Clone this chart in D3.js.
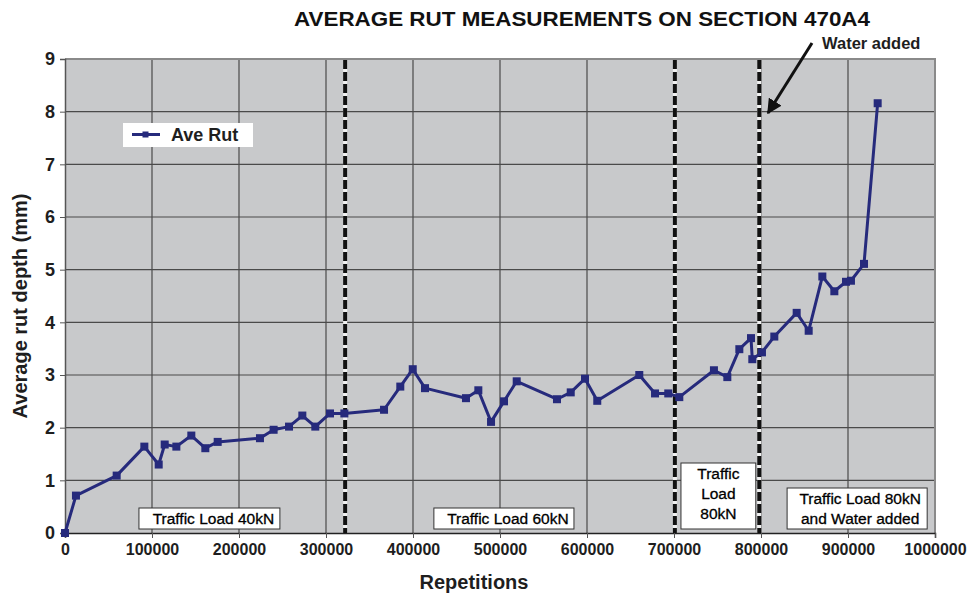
<!DOCTYPE html>
<html>
<head>
<meta charset="utf-8">
<script src="https://cdn.jsdelivr.net/npm/d3@7/dist/d3.min.js"></script>
<style>
  body { margin: 0; background: #fff; }
  svg { display: block; }
  text { font-family: "Liberation Sans", Arial, sans-serif; }
</style>
</head>
<body>
<svg id="chart" width="973" height="596"></svg>
<script>
// ---- data ----
const repetitions = [0, 12600, 59400, 91200, 107700, 114600, 128000, 145200, 161300, 175500,
  224100, 239800, 257500, 272800, 287700, 304600, 321100, 366700, 385400, 399700,
  413800, 460900, 475100, 489700, 504600, 519200, 565500, 581300, 597700, 611800,
  660100, 678200, 693400, 706100, 745900, 761300, 775100, 788500, 790000, 801100,
  815300, 841000, 854800, 870500, 884300, 897700, 903400, 918400, 934100];
const aveRut = [0, 0.71, 1.09, 1.64, 1.30, 1.68, 1.64, 1.85, 1.61, 1.73,
  1.80, 1.96, 2.02, 2.23, 2.02, 2.27, 2.27, 2.34, 2.78, 3.11,
  2.75, 2.56, 2.71, 2.11, 2.50, 2.88, 2.54, 2.67, 2.93, 2.51,
  3.00, 2.65, 2.65, 2.58, 3.09, 2.96, 3.49, 3.70, 3.30, 3.43,
  3.73, 4.18, 3.84, 4.87, 4.59, 4.77, 4.79, 5.11, 8.16];
const phaseBoundaries = [322000, 701000, 798000];
const xTicks = [0, 100000, 200000, 300000, 400000, 500000, 600000, 700000, 800000, 900000, 1000000];
const yTicks = [0, 1, 2, 3, 4, 5, 6, 7, 8, 9];
const phaseLabels = [
  { lines: ["Traffic Load 40kN"], x0: 85000, x1: 247000 },
  { lines: ["Traffic Load 60kN"], x0: 424000, x1: 585000 },
  { lines: ["Traffic", "Load", "80kN"], x0: 708000, x1: 794000 },
  { lines: ["Traffic Load 80kN", "and Water added"], x0: 830000, x1: 991000 }
];

// ---- layout ----
const svg = d3.select("#chart");
const L = 65, R = 935, T = 59, B = 533;
const x = d3.scaleLinear().domain([0, 1000000]).range([L, R]);
const y = d3.scaleLinear().domain([0, 9]).range([B, T]);
const lineColor = "#262a7c";
const textColor = "#1e1e1e";

// background
svg.append("rect").attr("x", L).attr("y", T).attr("width", R - L).attr("height", B - T)
  .attr("fill", "#c8c9cb");

// grid
svg.append("g").selectAll("line").data(yTicks.slice(1)).join("line")
  .attr("x1", L).attr("x2", R).attr("y1", d => y(d)).attr("y2", d => y(d))
  .attr("stroke", "#4a4a4a").attr("stroke-width", 1.2);
svg.append("g").selectAll("line").data(xTicks.slice(1, -1)).join("line")
  .attr("y1", T).attr("y2", B).attr("x1", d => x(d)).attr("x2", d => x(d))
  .attr("stroke", "#4a4a4a").attr("stroke-width", 1.2);

// border top/right
svg.append("path").attr("d", `M${L},${T}H${R}V${B}`).attr("fill", "none")
  .attr("stroke", "#8a8a8a").attr("stroke-width", 2);

// axes
const xAxis = d3.axisBottom(x).tickValues(xTicks).tickSize(5).tickFormat(d3.format("d"));
const gx = svg.append("g").attr("transform", `translate(0,${B})`).call(xAxis);
gx.select(".domain").attr("stroke", "#222").attr("stroke-width", 1.5);
gx.selectAll(".tick line").attr("stroke", "#555");
gx.selectAll(".tick text").attr("font-size", 16).attr("font-weight", "bold")
  .attr("fill", textColor).attr("dy", "0.85em")
  .attr("font-family", "'Liberation Sans', Arial, sans-serif");

const yAxis = d3.axisLeft(y).tickValues(yTicks).tickSize(5).tickFormat(d3.format("d"));
const gy = svg.append("g").attr("transform", `translate(${L},0)`).call(yAxis);
gy.select(".domain").attr("stroke", "#555").attr("stroke-width", 1.5);
gy.selectAll(".tick line").attr("stroke", "#555");
gy.selectAll(".tick text").attr("font-size", 18).attr("font-weight", "bold")
  .attr("fill", textColor).attr("x", -10)
  .attr("font-family", "'Liberation Sans', Arial, sans-serif");

// phase labels (boxes)
const boxTop = { 1: 508, 2: 488, 3: 463 };
phaseLabels.forEach(p => {
  const n = p.lines.length;
  const top = boxTop[n];
  const g = svg.append("g");
  g.append("rect").attr("x", x(p.x0)).attr("y", top)
    .attr("width", x(p.x1) - x(p.x0)).attr("height", 529 - top)
    .attr("fill", "#fff").attr("stroke", "#333").attr("stroke-width", 1);
  const cx = (x(p.x0) + x(p.x1)) / 2 + (n === 2 ? 3 : (n === 1 ? 4 : 0));
  p.lines.forEach((t, i) => {
    g.append("text").attr("x", cx).attr("y", top + 10.5 + 20 * i)
      .attr("dy", "0.35em").attr("text-anchor", "middle")
      .attr("font-family", "Lato, 'Open Sans', sans-serif")
      .attr("font-size", 15.5).attr("fill", "#000")
      .attr("stroke", "#000").attr("stroke-width", 0.3).text(t);
  });
});

// dashed phase boundaries
phaseBoundaries.forEach(v => {
  svg.append("line").attr("x1", x(v)).attr("x2", x(v)).attr("y1", T + 1).attr("y2", B)
    .attr("stroke", "#f0f0f0").attr("stroke-width", 4);
  svg.append("line").attr("x1", x(v)).attr("x2", x(v)).attr("y1", T + 1).attr("y2", B)
    .attr("stroke", "#111").attr("stroke-width", 4).attr("stroke-dasharray", "9,3");
});

// data line
const line = d3.line().x((d, i) => x(repetitions[i])).y(d => y(d));
svg.append("path").datum(aveRut).attr("d", line).attr("fill", "none")
  .attr("stroke", lineColor).attr("stroke-width", 3).attr("stroke-linejoin", "round");
svg.append("g").selectAll("rect").data(aveRut).join("rect")
  .attr("x", (d, i) => x(repetitions[i]) - 4).attr("y", d => y(d) - 4)
  .attr("width", 8).attr("height", 8).attr("fill", lineColor);

// legend
const lg = svg.append("g");
lg.append("rect").attr("x", 123).attr("y", 123).attr("width", 130).attr("height", 24).attr("fill", "#fff");
lg.append("line").attr("x1", 132).attr("x2", 160).attr("y1", 134.5).attr("y2", 134.5)
  .attr("stroke", lineColor).attr("stroke-width", 3);
lg.append("rect").attr("x", 142.5).attr("y", 131.5).attr("width", 6).attr("height", 6).attr("fill", lineColor);
lg.append("text").attr("x", 171).attr("y", 135).attr("dy", "0.35em")
  .attr("font-size", 18).attr("font-weight", "bold").attr("fill", textColor).text("Ave Rut");

// title
svg.append("text").attr("x", 582).attr("y", 26).attr("text-anchor", "middle")
  .attr("font-size", 21).attr("font-weight", "bold").attr("fill", "#111")
  .attr("textLength", 576).attr("lengthAdjust", "spacingAndGlyphs")
  .text("AVERAGE RUT MEASUREMENTS ON SECTION 470A4");

// axis titles
svg.append("text").attr("x", 474).attr("y", 589).attr("text-anchor", "middle")
  .attr("font-size", 20).attr("font-weight", "bold").attr("fill", textColor).text("Repetitions");
svg.append("text").attr("transform", "translate(27,306) rotate(-90)").attr("text-anchor", "middle")
  .attr("font-size", 20).attr("font-weight", "bold").attr("fill", textColor).text("Average rut depth (mm)");

// annotation
svg.append("defs").append("marker").attr("id", "arrow").attr("viewBox", "0 0 10 10")
  .attr("refX", 9).attr("refY", 5).attr("markerWidth", 5).attr("markerHeight", 5)
  .attr("markerUnits", "strokeWidth").attr("orient", "auto")
  .append("path").attr("d", "M0,0L10,5L0,10Z").attr("fill", "#111");
svg.append("line").attr("x1", 812).attr("y1", 43).attr("x2", 768).attr("y2", 113)
  .attr("stroke", "#111").attr("stroke-width", 3).attr("marker-end", "url(#arrow)");
svg.append("text").attr("x", 822).attr("y", 49)
  .attr("font-size", 16.5).attr("font-weight", "bold").attr("fill", textColor).text("Water added");
</script>
</body>
</html>
